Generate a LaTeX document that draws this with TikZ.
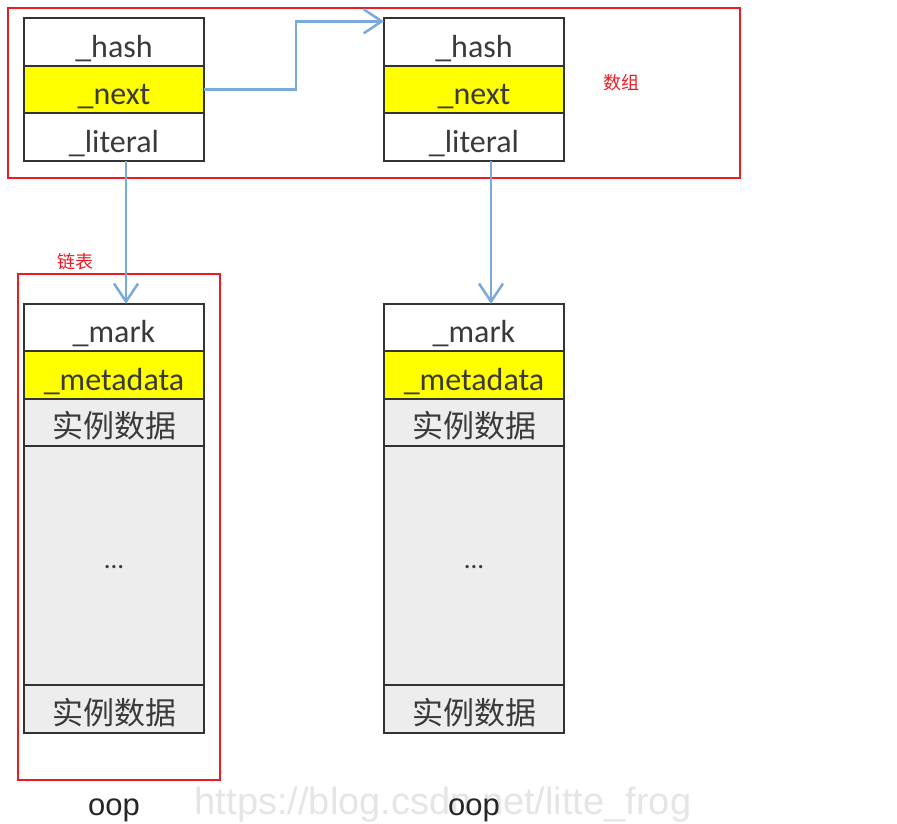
\documentclass[tikz,border=0pt]{standalone}
\usepackage{fontspec}
\setmainfont{Carlito}
\newfontfamily\cjk{Noto Sans CJK SC}
\newfontfamily\markfont{Liberation Sans}
\usetikzlibrary{arrows.meta,positioning,calc}
\definecolor{OopRed}   {HTML}{ED1C24}
\definecolor{OopYellow}{HTML}{FFFF00}
\definecolor{OopGray}  {HTML}{EDEDED}
\definecolor{OopBorder}{HTML}{333333}
\definecolor{OopText}  {HTML}{3A3A3A}
\definecolor{OopBlue}  {HTML}{7AAADC}
\begin{document}
\begin{tikzpicture}[x=1pt,y=-1pt,
    cell/.style={draw=OopBorder,line width=2pt,minimum width=180pt,minimum height=47.5pt,
      inner sep=0pt,outer sep=0pt,text height=30pt,text depth=0pt,
      font=\fontsize{32}{34}\selectfont,text=OopText},
    hot/.style={cell,fill=OopYellow},
    body/.style={cell,fill=OopGray},
    zh/.style={font=\cjk\fontsize{31}{34}\selectfont},
    gap/.style={body,minimum height=239pt,text height=5pt,font=\fontsize{27}{30}\selectfont},
    frame/.style={draw=OopRed,line width=1.5pt},
    tag/.style={font=\cjk\fontsize{18}{20}\selectfont,text=OopRed},
    link/.style={-{Straight Barb[length=18pt,width=24pt,line width=2.5pt]},OopBlue,line width=2.5pt},
    oopcap/.style={anchor=base,font=\markfont\fontsize{31}{34}\selectfont,text=black!85}
  ]
    \useasboundingbox (0,0) rectangle (897,823);
    % array of entries
    \draw[frame](8,8) rectangle (740,178);
    \node[tag](arr) at (621,83) {数组};
    \node[cell](h1) at (114,42) {\_hash};
    \node[hot,below=0pt of h1](n1) {\_next};
    \node[cell,below=0pt of n1](l1) {\_literal};
    \node[cell](h2) at (474,42) {\_hash};
    \node[hot,below=0pt of h2](n2) {\_next};
    \node[cell,below=0pt of n2](l2) {\_literal};
    % linked list box
    \draw[frame](18,274) rectangle (220,780);
    \node[tag](lst) at (75,262) {链表};
    % oops
    \node[cell](m1) at (114,327.5) {\_mark};
    \node[hot,below=0pt of m1](d1) {\_metadata};
    \node[body,zh,below=0pt of d1](s1) {实例数据};
    \node[gap,below=0pt of s1](e1) {...};
    \node[body,zh,below=0pt of e1](t1) {实例数据};
    \node[cell](m2) at (474,327.5) {\_mark};
    \node[hot,below=0pt of m2](d2) {\_metadata};
    \node[body,zh,below=0pt of d2](s2) {实例数据};
    \node[gap,below=0pt of s2](e2) {...};
    \node[body,zh,below=0pt of e2](t2) {实例数据};
    \node[anchor=base,font=\markfont\fontsize{38}{42}\selectfont,text=black!10](wm) at (443,814) {https://blog.csdn.net/litte\_frog};
    \node[oopcap](o1) at (114,815) {oop};
    \node[oopcap](o2) at (474,815) {oop};
    % pointers
    \draw[link](n1.east)--++(92,0)|-($(h2.north west)+(0,3)$);
    \draw[link]($(l1.south)+(12,0)$)--($(m1.north)+(12,0)$);
    \draw[link]($(l2.south)+(17,0)$)--($(m2.north)+(17,0)$);
  \end{tikzpicture}
\end{document}
